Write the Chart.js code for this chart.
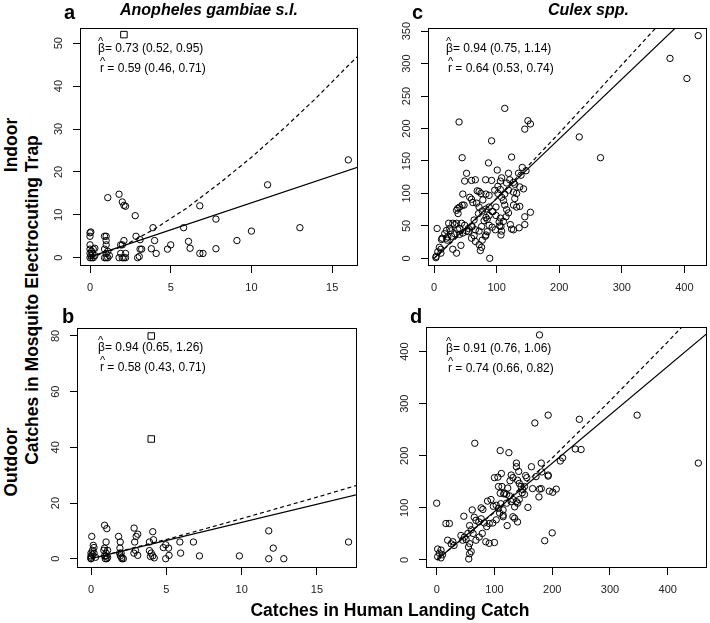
<!DOCTYPE html>
<html>
<head>
<meta charset="utf-8">
<script src="https://cdn.jsdelivr.net/npm/chart.js@4.4.1/dist/chart.umd.min.js"></script>
<style>
  body { margin: 0; background: #fff; width: 710px; height: 623px; position: relative; overflow: hidden;
         font-family: "Liberation Sans", Arial, sans-serif; color: #000; }
  canvas { position: absolute; }
  .t { position: absolute; white-space: nowrap; }
  .lbl { font-weight: bold; font-size: 20px; line-height: 20px; }
  .ttl { font-weight: bold; font-style: italic; font-size: 16px; line-height: 16px; }
  .ann { font-size: 12px; line-height: 14px; }
  .hat { position: relative; display: inline-block; }
  .hat::before { content: "^"; position: absolute; left: 0px; top: -7px; font-size: 11px; }
  .rot { font-weight: bold; font-size: 17.5px; transform: translate(-50%, -50%) rotate(-90deg); }
  .xt { font-weight: bold; font-size: 17.5px; transform: translate(-50%, -50%); }
</style>
</head>
<body>
<canvas id="chartA"></canvas>
<canvas id="chartB"></canvas>
<canvas id="chartC"></canvas>
<canvas id="chartD"></canvas>

<div class="t lbl" style="left:64px;top:2px">a</div>
<div class="t lbl" style="left:412px;top:2px">c</div>
<div class="t lbl" style="left:62px;top:306px">b</div>
<div class="t lbl" style="left:410px;top:306px">d</div>
<div class="t ttl" style="left:120px;top:2px">Anopheles gambiae s.l.</div>
<div class="t ttl" style="left:548px;top:2px">Culex spp.</div>

<div class="t ann" style="left:98px;top:41px"><span class="hat">β</span>= 0.73 (0.52, 0.95)</div>
<div class="t ann" style="left:100px;top:61px"><span class="hat">r</span> = 0.59 (0.46, 0.71)</div>
<div class="t ann" style="left:446px;top:41px"><span class="hat">β</span>= 0.94 (0.75, 1.14)</div>
<div class="t ann" style="left:448px;top:61px"><span class="hat">r</span> = 0.64 (0.53, 0.74)</div>
<div class="t ann" style="left:98px;top:340px"><span class="hat">β</span>= 0.94 (0.65, 1.26)</div>
<div class="t ann" style="left:100px;top:360px"><span class="hat">r</span> = 0.58 (0.43, 0.71)</div>
<div class="t ann" style="left:446px;top:341px"><span class="hat">β</span>= 0.91 (0.76, 1.06)</div>
<div class="t ann" style="left:448px;top:361px"><span class="hat">r</span> = 0.74 (0.66, 0.82)</div>

<div class="t rot" style="left:11px;top:145px">Indoor</div>
<div class="t rot" style="left:11px;top:462px">Outdoor</div>
<div class="t rot" style="left:32px;top:300px">Catches in Mosquito Electrocuting Trap</div>
<div class="t xt" style="left:390px;top:610px">Catches in Human Landing Catch</div>

<script>
// a: Anopheles, indoor
const aHlc = [0, 0.1, 0.2, 0.05, 0.15, 0, 0, 0.2, 0.3, 0, 0, 0, 0.05, 0.1, 0.3,
  1, 1.1, 0.9, 1, 0.9, 1, 1, 0.9, 1, 1.1, 1.2, 1.1,
  1.8, 2, 2.1, 2.2, 1.9, 1.9, 2, 2.1, 2.2, 1.8, 2, 2.1, 2.2,
  2.8, 2.85, 3.1, 3.1, 3.2, 2.95, 3.05,
  3.9, 4, 3.8, 4.1, 4.8, 5, 6.1, 6.2, 5.8, 6.8, 7, 6.8, 7.8, 7.8, 9.1, 10, 11, 13, 16];
const aMet = [0, 0, 0, 0.5, 1, 1, 2, 2, 2.2, 3, 5, 5.8, 6, 1.5, 0.5,
  0, 0, 0, 1, 2, 3, 4, 5, 5, 1.5, 0.5, 14,
  0, 0, 0, 0, 1, 3, 3, 4, 1, 14.8, 13, 12.2, 12,
  9.8, 5, 4.2, 2, 2, 0, 0.3,
  7, 4, 2.1, 1, 2, 3, 3.8, 2.2, 7, 1, 1, 12.1, 9, 2.1, 4, 6.2, 17, 7, 22.8];
const aSqHlc = [2.1];
const aSqMet = [52];
const aSolidHlc = [0, 17];
const aSolidMet = [0.2, 21.6];
const aDashHlc = [0, 2, 4, 6, 8, 10, 12, 14, 16, 17];
const aDashMet = [0, 2.6, 6.7, 11.6, 17.3, 23.4, 30.1, 37.2, 44.8, 48.5];
const aXTicks = [0, 5, 10, 15];
const aYTicks = [0, 10, 20, 30, 40, 50];

// b: Anopheles, outdoor
const bHlc = [0, 0, 0, 0, 0.1, 0.2, 0.15, 0.05, 0, 0.1, 0.3, 0.2,
  0.9, 1.05, 1, 0.9, 0.85, 1, 1, 1.05, 0.95, 1.1, 0.9, 1.1,
  1.83, 1.94, 1.92, 2, 1.9, 2.05, 2.15, 2.05, 1.95,
  2.86, 3.1, 3.0, 2.9, 2.95, 2.85, 3.1,
  4.1, 4.15, 3.88, 3.88, 4, 4.1, 4.2, 3.95,
  4.8, 4.96, 5.15, 4.96, 5.18, 5.95, 5.9, 6.8, 7.2, 9.85, 11.8, 12.1, 11.8, 12.8, 17.1];
const bMet = [0, 0, 1, 2, 3, 4, 4.8, 8, 0.5, 1.5, 0.5, 2,
  12, 10.8, 6, 3.8, 3, 2, 1, 0, 0, 0.5, 1, 3,
  8, 6, 3.8, 2, 2, 0, 0, 0.5, 1,
  11, 8.8, 8, 6, 3, 2, 1.2,
  9.7, 6.8, 6, 2.9, 2, 1, 0.3, 0.8,
  4, 5, 3.8, 0, 1.2, 2, 6, 6, 1, 1, 10, 3.8, 0, 0, 6];
const bSqHlc = [4, 4];
const bSqMet = [80, 43];
const bSolidHlc = [0, 18];
const bSolidMet = [0, 23.5];
const bDashHlc = [0, 5, 10, 15, 18];
const bDashMet = [0, 6.9, 14.4, 22.1, 26.9];
const bXTicks = [0, 5, 10, 15];
const bYTicks = [0, 20, 40, 60, 80];

// c: Culex, indoor
const cHlc = [3, 3.3, 5, 6, 8.6, 11, 11, 12, 13, 20, 21, 20, 17, 22, 23.4, 25, 26.7, 28, 30, 30,
  33, 33, 36, 36, 38, 41, 41, 43, 44, 46, 49, 52, 55, 60, 66, 72, 60, 66, 72, 74,
  76, 77, 82, 83, 85, 88, 93, 98, 89, 38, 41, 45, 48, 36, 38.5, 46, 49, 52, 45, 40,
  57, 60, 62, 68, 72, 78, 60, 66, 69, 72, 75, 83, 88, 82.5, 92, 83, 88, 93, 99, 77,
  80, 85, 83, 88, 64, 61, 71, 76, 87, 92, 97, 102, 102, 106, 106, 108, 101, 94, 99, 104,
  106, 107, 107, 113, 113, 108, 111, 113, 116, 119, 115, 111, 105, 108, 116, 121, 119, 124, 127, 129,
  137, 143, 119, 127, 132, 129, 127, 132, 137, 124, 127, 136, 135, 139, 141, 147, 145, 145, 154, 145,
  150, 154, 232, 266, 377, 404, 422, 122, 55, 64];
const cMet = [1, 3, 46, 10, 17, 8, 14, 29, 31, 31, 28, 43, 38, 33, 54, 46, 42.5, 34, 14, 54,
  52, 38, 8, 54, 44, 46, 37, 20, 54, 39, 51, 42, 46, 49, 44, 42, 31, 26, 21, 12,
  17, 28, 34, 36, 41, 51, 48, 44, 0, 77, 79, 82, 82, 74, 69, 99, 119, 131, 155, 210,
  94, 91, 86, 85, 79, 90, 120, 121, 104, 103, 100, 99, 97, 121, 120, 76, 79, 72, 79, 73,
  58, 60, 63, 66, 59, 49, 69, 49, 147, 181, 105, 100, 111, 106, 119, 124, 136, 72, 66, 56,
  62, 49, 36, 231, 99, 94, 89, 82, 75, 70, 64, 57, 50, 42, 116, 121, 131, 156, 117, 114,
  110, 107, 105, 102, 100, 92, 82, 79, 80, 45, 44, 47, 131, 128, 140, 135, 64, 52, 71, 199,
  212, 207, 187, 155, 308, 277, 343, 52, 41, 35];
const cSolidHlc = [0, 400];
const cSolidMet = [0, 368];
const cDashHlc = [0, 50, 100, 150, 200, 250, 300, 360];
const cDashMet = [0, 44, 92.5, 142, 193, 245, 298, 361];
const cXTicks = [0, 100, 200, 300, 400];
const cYTicks = [0, 50, 100, 150, 200, 250, 300, 350];

// d: Culex, outdoor
const dHlc = [0, 1.7, 1.7, 4.6, 7.5, 7.5, 10, 16, 22, 19, 25, 28, 30, 42, 45, 48, 51, 47, 54, 55,
  55.5, 57, 57, 57, 59.7, 60, 61.5, 63, 65, 66, 68, 68, 73, 73.6, 77, 77, 79, 80, 82.5, 85,
  86.5, 88, 91, 91, 94, 97, 98, 100, 100, 103, 103, 106, 107, 107, 109, 110, 110, 111, 112, 113,
  115, 115, 115, 116, 118, 121, 121, 122, 123, 125, 126, 127, 129, 129, 132, 132, 132, 135, 135, 138,
  138, 138, 140, 140, 140, 142, 143, 143, 146, 148, 149, 152, 152, 154, 156, 158, 164, 166, 170, 172,
  177, 178, 178, 181, 181, 182, 187, 193, 193, 193, 195, 200, 201, 207, 214, 218, 240, 247, 250, 347,
  453];
const dMet = [109, 21, 6.4, 13, 19, 4, 10, 70, 70, 38, 31, 35, 28, 47, 38, 44, 39, 84, 51, 25,
  2, 12, 31.5, 66, 16, 58, 96, 51, 82, 224, 38, 76, 73, 44, 79, 100, 51, 97, 71, 35,
  64, 113, 70, 32, 116, 71, 103, 33.5, 158, 77, 105, 159, 99, 141, 90, 128, 210, 108, 166, 141,
  86, 96, 83, 127, 128, 109, 126, 66, 138, 206, 123, 152, 163, 112, 158, 116, 83, 80, 102, 112,
  186, 179, 153, 109, 73, 170, 147, 116, 141, 129, 135, 141, 126, 162, 158, 101, 179, 137, 263, 160,
  121, 136, 432, 186, 137, 169, 37, 163, 161, 278, 132, 52, 130, 136, 190, 196, 213, 270, 212, 278,
  186];
const dSolidHlc = [0, 480];
const dSolidMet = [0, 446];
const dDashHlc = [0, 100, 200, 300, 400, 450];
const dDashMet = [0, 91.4, 195.7, 305.4, 418.7, 476.9];
const dXTicks = [0, 100, 200, 300, 400];
const dYTicks = [0, 100, 200, 300, 400];

const family = '"Liberation Sans", Arial, sans-serif';
const YW = 34, XH = 32, PT = 16, PR = 3;

const pairs = (xs, ys) => xs.map((x, i) => ({ x: x, y: ys[i] }));

// keep the chart area exactly where the box is
const noPad = s => {
    s.paddingTop = 0;
    s.paddingBottom = 0;
    s.paddingLeft = 0;
    s.paddingRight = 0;
};

const boxPlugin = {
    id: 'box',
    afterDatasetsDraw(chart) {
        const a = chart.chartArea;
        const ctx = chart.ctx;
        ctx.save();
        ctx.strokeStyle = '#000';
        ctx.lineWidth = 1;
        ctx.strokeRect(a.left + 0.5, a.top + 0.5, a.right - a.left - 1, a.bottom - a.top - 1);
        ctx.restore();
    }
};

function panel(id, box, xr, yr, xt, yt, yPad, pts, sq, solid, dash) {
    const cv = document.getElementById(id);
    const w = box.r - box.l + YW + PR;
    const h = box.b - box.t + PT + XH;
    cv.width = w;
    cv.height = h;
    cv.style.left = (box.l - YW) + 'px';
    cv.style.top = (box.t - PT) + 'px';
    cv.style.width = w + 'px';
    cv.style.height = h + 'px';

    new Chart(cv, {
        type: 'scatter',
        data: {
            datasets: [
                { data: pts, pointStyle: 'circle', pointRadius: 3.2, pointHoverRadius: 3.2,
                  pointBorderWidth: 1, borderColor: '#000', backgroundColor: 'rgba(0,0,0,0)' },
                { data: sq, pointStyle: 'rect', pointRadius: 4.6, pointHoverRadius: 4.6,
                  pointBorderWidth: 1, borderColor: '#000', backgroundColor: 'rgba(0,0,0,0)' },
                { data: solid, showLine: true, pointRadius: 0, borderColor: '#000',
                  borderWidth: 1.2, clip: 0 },
                { data: dash, showLine: true, pointRadius: 0, borderColor: '#000',
                  borderWidth: 1.2, borderDash: [4, 3], clip: 0 }
            ]
        },
        options: {
            responsive: false,
            animation: false,
            devicePixelRatio: 1,
            events: [],
            layout: { padding: { left: 0, top: PT, right: PR, bottom: 0 }, autoPadding: false },
            plugins: { legend: { display: false }, tooltip: { enabled: false } },
            scales: {
                x: {
                    type: 'linear', min: xr[0], max: xr[1],
                    afterBuildTicks: s => { s.ticks = xt.map(v => ({ value: v })); },
                    afterFit: s => { s.height = XH; noPad(s); },
                    grid: { drawOnChartArea: false, tickLength: 7, color: '#000', lineWidth: 1 },
                    border: { display: false },
                    ticks: { font: { size: 11, family: family }, color: '#222', padding: 8,
                             maxRotation: 0, autoSkip: false }
                },
                y: {
                    type: 'linear', min: yr[0], max: yr[1],
                    afterBuildTicks: s => { s.ticks = yt.map(v => ({ value: v })); },
                    afterFit: s => { s.width = YW; noPad(s); },
                    grid: { drawOnChartArea: false, tickLength: 7, color: '#000', lineWidth: 1 },
                    border: { display: false },
                    ticks: { font: { size: 11, family: family }, color: '#222', padding: yPad,
                             minRotation: 90, maxRotation: 90, crossAlign: 'center', autoSkip: false }
                }
            }
        },
        plugins: [boxPlugin]
    });
}

panel('chartA', { l: 80, t: 28, r: 358, b: 266 }, [-0.62, 16.6], [-1.93, 53.54], aXTicks, aYTicks, 7.9,
      pairs(aHlc, aMet), pairs(aSqHlc, aSqMet), pairs(aSolidHlc, aSolidMet), pairs(aDashHlc, aDashMet));
panel('chartB', { l: 77, t: 328, r: 357, b: 568 }, [-0.93, 17.66], [-3.34, 82.87], bXTicks, bYTicks, 7.9,
      pairs(bHlc, bMet), pairs(bSqHlc, bSqMet), pairs(bSolidHlc, bSolidMet), pairs(bDashHlc, bDashMet));
panel('chartC', { l: 428, t: 28, r: 707, b: 266 }, [-9.6, 436.1], [-11.8, 354.8], cXTicks, cYTicks, 4.8,
      pairs(cHlc, cMet), [], pairs(cSolidHlc, cSolidMet), pairs(cDashHlc, cDashMet));
panel('chartD', { l: 426, t: 327, r: 707, b: 568 }, [-18.5, 468], [-15.4, 447.2], dXTicks, dYTicks, 4.8,
      pairs(dHlc, dMet), [], pairs(dSolidHlc, dSolidMet), pairs(dDashHlc, dDashMet));
</script>
</body>
</html>
